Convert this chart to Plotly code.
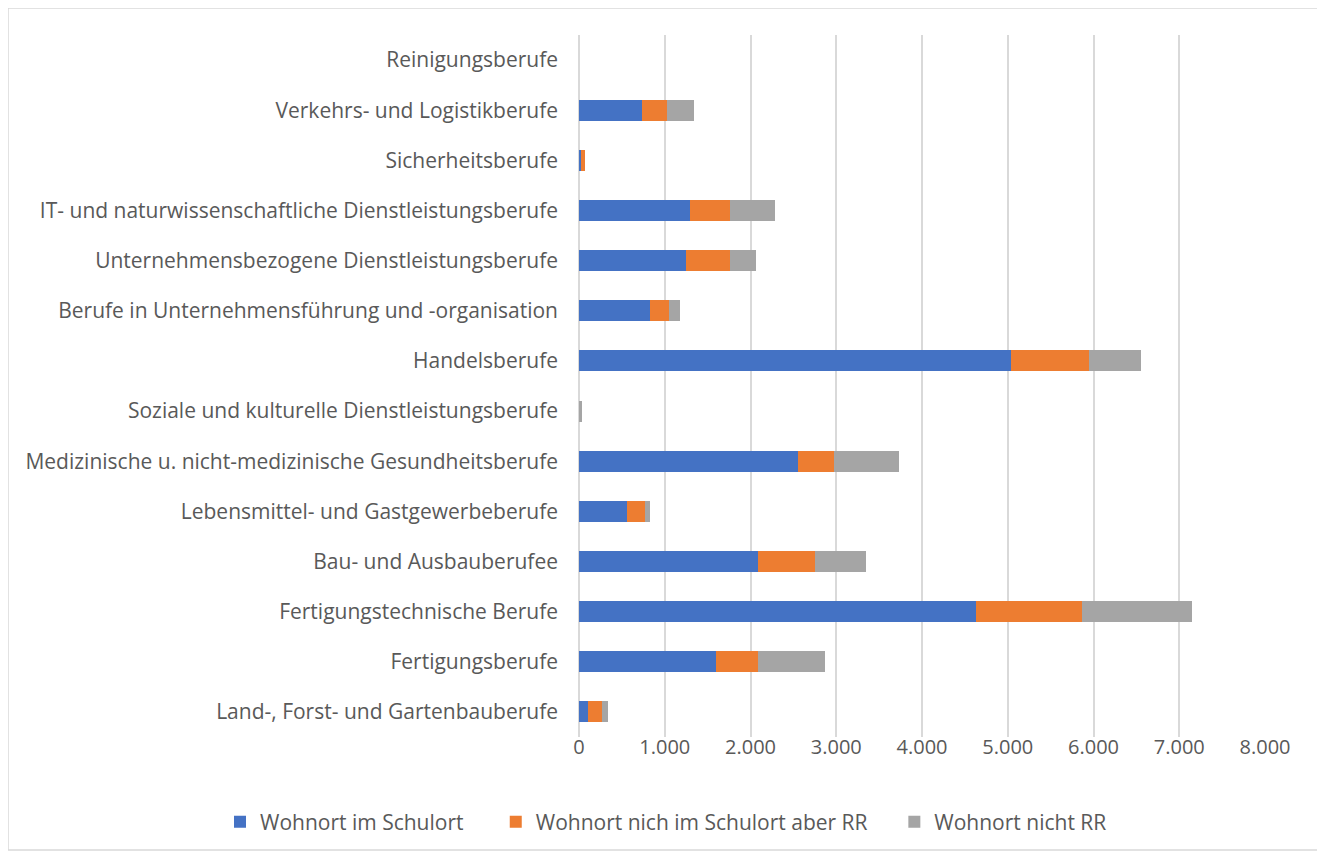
import plotly.graph_objects as go

categories = [
    "Land-, Forst- und Gartenbauberufe",
    "Fertigungsberufe",
    "Fertigungstechnische Berufe",
    "Bau- und Ausbauberufee",
    "Lebensmittel- und Gastgewerbeberufe",
    "Medizinische u. nicht-medizinische Gesundheitsberufe",
    "Soziale und kulturelle Dienstleistungsberufe",
    "Handelsberufe",
    "Berufe in Unternehmensführung und -organisation",
    "Unternehmensbezogene Dienstleistungsberufe",
    "IT- und naturwissenschaftliche Dienstleistungsberufe",
    "Sicherheitsberufe",
    "Verkehrs- und Logistikberufe",
    "Reinigungsberufe",
]
im_schulort = [105, 1600, 4630, 2090, 560, 2555, 5, 5040, 830, 1250, 1295, 25, 735, 0]
nicht_schulort_rr = [165, 490, 1235, 665, 210, 420, 5, 910, 220, 515, 465, 40, 290, 0]
nicht_rr = [70, 780, 1280, 595, 60, 760, 20, 605, 130, 300, 525, 0, 315, 0]

# trailing no-break spaces only widen the gap between legend entries
series = [
    ("Wohnort im Schulort" + "\u00a0" * 5, im_schulort, "#4472C4"),
    ("Wohnort nich im Schulort aber RR" + "\u00a0" * 4, nicht_schulort_rr, "#ED7D31"),
    ("Wohnort nicht RR", nicht_rr, "#A5A5A5"),
]

# page is drawn with an 8px body margin, so sizes are a bit smaller
W, H = 1317, 847
L, R, T, B = 571, 60, 27, 118
pw, ph = W - L - R, H - T - B

fig = go.Figure()
for name, vals, color in series:
    fig.add_trace(go.Bar(
        y=categories, x=vals, name=name, orientation="h",
        marker=dict(color=color, line=dict(width=0)),
    ))

# outer chart border
fig.add_shape(type="rect", xref="paper", yref="paper",
              x0=(0 - L) / pw, x1=(1310 - L) / pw,
              y0=(H - B - 842) / ph, y1=(H - B - 0) / ph,
              line=dict(color="#d9d9d9", width=1.5), layer="below")

fig.update_layout(
    width=W, height=H,
    barmode="stack", bargap=0.58,
    separators=",.",
    paper_bgcolor="white", plot_bgcolor="white",
    font=dict(family="Open Sans, Liberation Sans, sans-serif", size=21, color="#595959"),
    margin=dict(l=L, r=R, t=T, b=B),
    xaxis=dict(range=[0, 8000], dtick=1000, tickformat=",d",
               showgrid=True, gridcolor="#d9d9d9", gridwidth=1.5,
               zeroline=True, zerolinecolor="#d9d9d9", zerolinewidth=1.5,
               showline=False, ticks="", ticklabelstandoff=-4,
               tickfont=dict(color="#595959", size=20)),
    yaxis=dict(categoryorder="array", categoryarray=categories,
               showgrid=False, showline=False, ticks="", ticklabelstandoff=20,
               tickfont=dict(color="#595959", size=21)),
    legend=dict(orientation="h", xref="paper", yref="paper",
                x=(212 - L) / pw, xanchor="left",
                y=-(814 - (H - B)) / ph, yanchor="middle",
                font=dict(size=21, color="#595959"), traceorder="normal",
                itemwidth=30),
    showlegend=True,
)

fig.write_html("out.html")
